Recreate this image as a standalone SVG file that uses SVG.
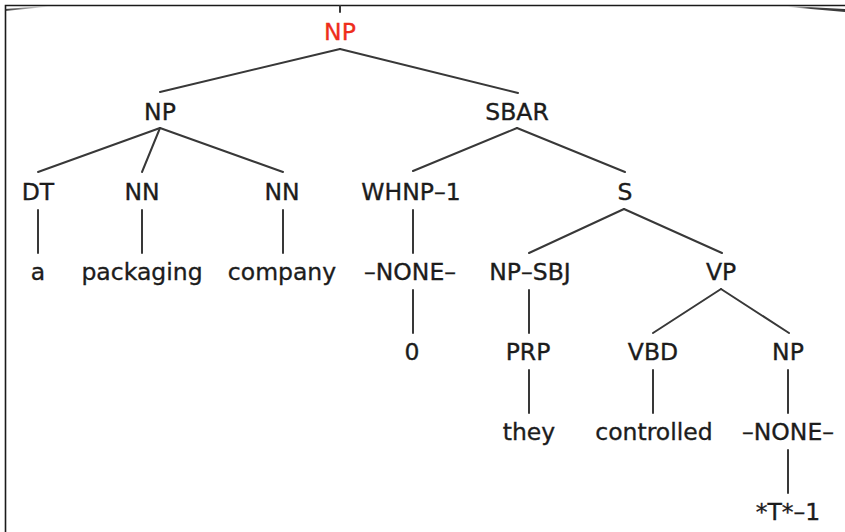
<svg xmlns="http://www.w3.org/2000/svg" width="845" height="532" viewBox="0 0 845 532">
  <style>
    text { font-family: "DejaVu Sans", "Liberation Sans", sans-serif; font-size: 23.5px; fill: #1c1c1c; stroke: #1c1c1c; stroke-width: 0.35; text-anchor: middle; }
    text.root { fill: #ee2d1c; stroke: #ee2d1c; }
    .edge { stroke: #383838; stroke-width: 2; fill: none; stroke-linecap: round; }
    .frame { stroke: #1a1a1a; stroke-width: 1.6; fill: none; }
  </style>
  <defs>
    <linearGradient id="fadeL" x1="0" y1="0" x2="1" y2="0">
      <stop offset="0" stop-color="#222" stop-opacity="0.9"/>
      <stop offset="1" stop-color="#222" stop-opacity="0"/>
    </linearGradient>
    <linearGradient id="fadeR" x1="0" y1="0" x2="1" y2="0">
      <stop offset="0" stop-color="#222" stop-opacity="0"/>
      <stop offset="0.4" stop-color="#222" stop-opacity="0.85"/>
      <stop offset="1" stop-color="#222" stop-opacity="0.9"/>
    </linearGradient>
  </defs>
  <rect width="845" height="532" fill="#ffffff"/>

  <!-- panel frame -->
  <g id="frame">
    <path class="frame" d="M5.5 532 V5.5 H845"/>
    <path d="M5 9 L48 5.8 L48 6.8 L5 11 Z" fill="url(#fadeL)"/>
    <path d="M788 6 L845 9 L845 12 L788 7 Z" fill="url(#fadeR)"/>
  </g>

  <!-- tree edges -->
  <g id="edges">
    <line class="edge" x1="340" y1="6" x2="340" y2="12"/>
    <line class="edge" x1="340" y1="49" x2="160" y2="92"/>
    <line class="edge" x1="340" y1="49" x2="518" y2="93"/>
    <line class="edge" x1="160" y1="128" x2="38" y2="172"/>
    <line class="edge" x1="160" y1="128" x2="142" y2="172"/>
    <line class="edge" x1="160" y1="128" x2="283" y2="172"/>
    <line class="edge" x1="517" y1="128" x2="413" y2="171"/>
    <line class="edge" x1="517" y1="128" x2="625" y2="172"/>
    <line class="edge" x1="38" y1="210" x2="38" y2="253"/>
    <line class="edge" x1="142" y1="210" x2="142" y2="253"/>
    <line class="edge" x1="283" y1="210" x2="283" y2="253"/>
    <line class="edge" x1="413" y1="210" x2="413" y2="253"/>
    <line class="edge" x1="624" y1="209" x2="529" y2="253"/>
    <line class="edge" x1="624" y1="209" x2="722" y2="253"/>
    <line class="edge" x1="413" y1="290" x2="413" y2="333"/>
    <line class="edge" x1="529" y1="290" x2="529" y2="333"/>
    <line class="edge" x1="721" y1="289" x2="653" y2="333"/>
    <line class="edge" x1="721" y1="289" x2="789" y2="333"/>
    <line class="edge" x1="529" y1="370" x2="529" y2="413"/>
    <line class="edge" x1="653" y1="370" x2="653" y2="413"/>
    <line class="edge" x1="788" y1="370" x2="788" y2="413"/>
    <line class="edge" x1="788" y1="450" x2="788" y2="493"/>
  </g>

  <g id="n-root"><text class="root" x="340" y="40">NP</text></g>
  <g id="n-np"><text x="160" y="120">NP</text></g>
  <g id="n-sbar"><text x="517" y="120">SBAR</text></g>
  <g id="n-dt"><text x="38" y="200">DT</text></g>
  <g id="n-nn1"><text x="142" y="200">NN</text></g>
  <g id="n-nn2"><text x="282" y="200">NN</text></g>
  <g id="n-whnp"><text x="411" y="200">WHNP–1</text></g>
  <g id="n-s"><text x="625" y="200">S</text></g>
  <g id="w-a"><text x="38" y="280">a</text></g>
  <g id="w-packaging"><text x="142" y="280">packaging</text></g>
  <g id="w-company"><text x="282" y="280">company</text></g>
  <g id="n-none1"><text x="410" y="280">–NONE–</text></g>
  <g id="n-npsbj"><text x="530" y="280">NP–SBJ</text></g>
  <g id="n-vp"><text x="721" y="280">VP</text></g>
  <g id="w-0"><text x="412" y="360">0</text></g>
  <g id="n-prp"><text x="528" y="360">PRP</text></g>
  <g id="n-vbd"><text x="653" y="360">VBD</text></g>
  <g id="n-np2"><text x="788" y="360">NP</text></g>
  <g id="w-they"><text x="529" y="440">they</text></g>
  <g id="w-controlled"><text x="654" y="440">controlled</text></g>
  <g id="n-none2"><text x="788" y="440">–NONE–</text></g>
  <g id="w-t1"><text x="788" y="520">*T*–1</text></g>
</svg>
